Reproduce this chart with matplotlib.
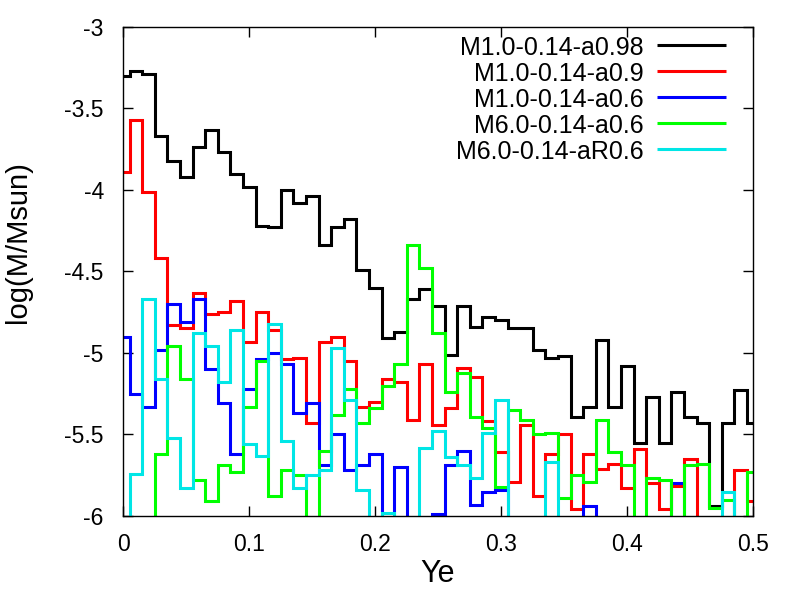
import numpy as np
import matplotlib
matplotlib.use("Agg")
import matplotlib.pyplot as plt

plt.rcParams['font.family'] = ['Liberation Sans', 'DejaVu Sans']

# bin centres in Ye (0.01 wide bins, drawn as histogram steps)
ye = np.linspace(0.0, 0.5, 51)

LOW = -7.0  # bins that fall below the plotted range

m10_a098 = [-3.30, -3.27, -3.29, -3.67, -3.82, -3.92, -3.74, -3.63, -3.77, -3.90,
            -3.98, -4.22, -4.23, -4.00, -4.08, -4.04, -4.34, -4.23, -4.18, -4.49,
            -4.60, -4.91, -4.87, -4.67, -4.61, -4.71, -5.01, -4.71, -4.84, -4.78,
            -4.80, -4.85, -4.85, -4.98, -5.03, -5.02, -5.39, -5.33, -4.92, -5.33,
            -5.08, -5.55, -5.27, -5.55, -5.24, -5.39, -5.43, -5.94, -5.43, -5.23,
            -5.43]

m10_a09 = [-3.89, -3.57, -4.01, -4.42, -4.83, -4.85, -4.63, -4.76, -4.75, -4.68,
           -4.93, -4.75, -4.86, -5.04, -5.03, -5.43, -4.93, -4.90, -5.05, -5.33,
           -5.30, -5.16, -5.18, -5.41, -5.07, -5.44, -5.34, -5.09, -5.15, -5.42,
           -5.61, -5.79, -5.44, -5.88, -5.62, -5.50, -5.96, -5.62, -5.71, -5.68,
           -5.83, -5.59, -5.80, -5.96, -5.815, -5.65, LOW, LOW, LOW, -5.72,
           -5.91]

m10_a06 = [-4.90, -5.25, -5.33, -4.98, -4.70, -4.81, -4.67, -5.10, -5.31, -5.62,
           -5.22, -5.04, -5.00, -5.07, -5.37, -5.31, -5.69, -5.50, -5.72, -5.69,
           -5.62, LOW, -5.70, LOW, LOW, -5.99, -5.69, -5.60, -5.93, -5.85,
           -5.84, LOW, LOW, LOW, LOW, LOW, LOW, -5.94, LOW, LOW,
           LOW, LOW, LOW, LOW, -5.80, LOW, LOW, LOW, LOW, LOW,
           LOW]

m60_a06 = [LOW, LOW, LOW, -5.62, -4.96, -5.16, -5.78, -5.91, -5.69, -5.73,
           -5.33, -5.05, -5.88, -5.72, -5.75, LOW, -5.60, -5.38, -5.22, -5.43,
           -5.34, -5.20, -5.07, -4.34, -4.48, -4.88, -5.24, -5.12, -5.39, -5.46,
           -5.82, -5.35, -5.41, -5.50, -5.49, -5.89, -5.75, -5.79, -5.41, -5.61,
           -5.69, LOW, -5.77, -5.78, LOW, -5.69, -5.68, -5.95, -5.90, LOW,
           -5.73]

m60_ar06 = [LOW, -5.74, -4.67, -5.16, -5.52, -5.83, -4.88, -4.96, -5.18, -4.86,
            -5.56, -5.63, -4.82, -5.54, -5.83, -5.75, -5.72, -4.97, -5.29, -5.84,
            LOW, -5.98, LOW, LOW, -5.58, -5.48, -5.64, -5.69, -5.77, -5.49,
            -5.29, LOW, LOW, LOW, -5.67, LOW, LOW, LOW, LOW, LOW,
            LOW, LOW, LOW, LOW, LOW, LOW, LOW, LOW, -5.85, LOW,
            LOW]

series = [
    ("M1.0-0.14-a0.98", m10_a098, "#000000"),
    ("M1.0-0.14-a0.9", m10_a09, "#ff0000"),
    ("M1.0-0.14-a0.6", m10_a06, "#0000ff"),
    ("M6.0-0.14-a0.6", m60_a06, "#00ff00"),
    ("M6.0-0.14-aR0.6", m60_ar06, "#00e6e6"),
]

xticks = [0, 0.1, 0.2, 0.3, 0.4, 0.5]
xticklabels = ["0", "0.1", "0.2", "0.3", "0.4", "0.5"]
yticks = [-6, -5.5, -5, -4.5, -4, -3.5, -3]
yticklabels = ["-6", "-5.5", "-5", "-4.5", "-4", "-3.5", "-3"]

fig = plt.figure(figsize=(8, 6), dpi=100)
ax = fig.add_axes([0.154, 0.14, 0.7875, 0.8153])

for label, vals, col in series:
    ax.step(ye, vals, where='mid', color=col, lw=2.2, solid_joinstyle='miter')

ax.set_xlim(0, 0.5)
ax.set_ylim(-6, -3)
ax.set_xticks(xticks)
ax.set_xticklabels(xticklabels)
ax.set_yticks(yticks)
ax.set_yticklabels(yticklabels)
ax.tick_params(direction='in', length=7, width=1, top=True, right=True,
               labelsize=16.5)
ax.tick_params(axis='x', pad=12)
ax.tick_params(axis='y', pad=14)
for sp in ax.spines.values():
    sp.set_linewidth(1.0)

# key, gnuplot style: text right-aligned, sample line on the right
for i, (label, vals, col) in enumerate(series):
    yk = 0.9628 - i * 0.0531
    ax.text(0.8254, yk - 0.006, label, ha='right', va='center', fontsize=18,
            transform=ax.transAxes)
    ax.plot([0.8476, 0.9576], [yk, yk], color=col, lw=2.2,
            transform=ax.transAxes, solid_capstyle='butt')

fig.text(18 / 800, 1 - 242 / 600, "log(M/Msun)", rotation=90, ha='center',
         va='center', fontsize=21)
fig.text(438 / 800, 1 - 574 / 600, "Ye", ha='center', va='center', fontsize=22)

fig.savefig("out.png", dpi=100)
